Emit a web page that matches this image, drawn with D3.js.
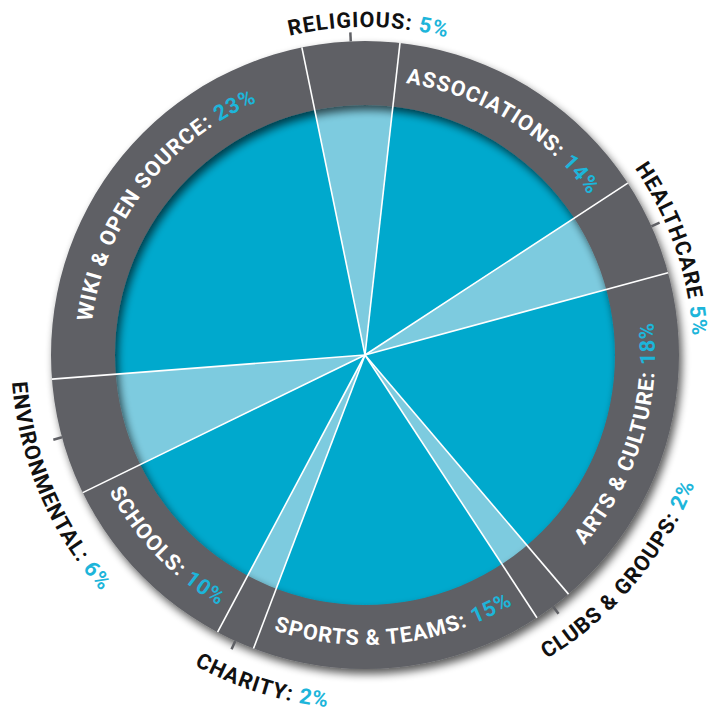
<!DOCTYPE html>
<html lang="en">
<head>
<meta charset="UTF-8">
<title>Sectors</title>
<script src="https://cdn.jsdelivr.net/npm/d3@7/dist/d3.min.js"></script>
<style>
  body { margin: 0; background: #fff; }
  text { font-family: Roboto, "Liberation Sans", sans-serif; font-weight: 700; }
</style>
</head>
<body>
<svg id="svg" width="723" height="708"></svg>
<script>
// label text (as printed) and share in percent, clockwise from the top
const categories = ["RELIGIOUS:", "ASSOCIATIONS:", "HEALTHCARE", "ARTS & CULTURE:", "CLUBS & GROUPS:",
                    "SPORTS & TEAMS:", "CHARITY:", "SCHOOLS:", "ENVIRONMENTAL:", "WIKI & OPEN SOURCE:"];
const values = [5, 14, 5, 18, 2, 15, 2, 10, 6, 23];

const data = categories.map((c, i) => ({name: c, value: values[i]}));

const svg = d3.select("#svg");
const cx = 365, cy = 355;
const rIn = 250, rOut = 314;
const deg = Math.PI / 180;
const startA = -11.6 * deg;
const fontSize = 21.5, spacing = 1;

const blue = "#00a9cd", lightBlue = "#7dcbdf", ring = "#5f6065", pctBlue = "#1db5da";

const isSmall = d => d.data.value <= 6;

const pie = d3.pie().sort(null).value(d => d.value)
  .startAngle(startA).endAngle(startA + 2 * Math.PI);
const arcs = pie(data);

const defs = svg.append("defs");
const f = defs.append("filter").attr("id", "shadow")
  .attr("x", "-20%").attr("y", "-20%").attr("width", "140%").attr("height", "140%");
f.append("feGaussianBlur").attr("in", "SourceAlpha").attr("stdDeviation", 4.5).attr("result", "b");
f.append("feOffset").attr("in", "b").attr("dx", 3).attr("dy", 5).attr("result", "o");
f.append("feComponentTransfer").attr("in", "o").attr("result", "s")
  .append("feFuncA").attr("type", "linear").attr("slope", 0.65);
const m = f.append("feMerge");
m.append("feMergeNode").attr("in", "s");
m.append("feMergeNode").attr("in", "SourceGraphic");

const g = svg.append("g").attr("transform", `translate(${cx},${cy})`);

// inner pie
const pieArc = d3.arc().innerRadius(0).outerRadius(rIn + 20);
g.selectAll(".slice").data(arcs).join("path")
  .attr("class", "slice")
  .attr("d", pieArc)
  .attr("fill", d => isSmall(d) ? lightBlue : blue);

// grey ring with its shadow
g.append("path")
  .attr("d", d3.arc().innerRadius(rIn).outerRadius(rOut).startAngle(0).endAngle(2 * Math.PI)())
  .attr("fill", ring)
  .attr("filter", "url(#shadow)");

// white separators
const pt = (a, r) => [r * Math.sin(a), -r * Math.cos(a)];
g.selectAll(".sep").data(arcs).join("line")
  .attr("class", "sep")
  .attr("x1", 0).attr("y1", 0)
  .attr("x2", d => pt(d.startAngle, rOut)[0])
  .attr("y2", d => pt(d.startAngle, rOut)[1])
  .attr("stroke", "#fff").attr("stroke-width", 1.6);

// small ticks for the outside labels
const midA = d => (d.startAngle + d.endAngle) / 2;
g.selectAll(".tick").data(arcs.filter(isSmall)).join("line")
  .attr("class", "tick")
  .attr("x1", d => pt(midA(d), rOut)[0])
  .attr("y1", d => pt(midA(d), rOut)[1])
  .attr("x2", d => pt(midA(d), rOut + 9)[0])
  .attr("y2", d => pt(midA(d), rOut + 9)[1])
  .attr("stroke", ring).attr("stroke-width", 2.5);

// curved labels
const span = 85 * deg;
function labelPath(mid, r, cw) {
  const a0 = cw ? mid - span : mid + span;
  const a1 = cw ? mid + span : mid - span;
  const p0 = pt(a0, r), p1 = pt(a1, r);
  return `M${p0[0]},${p0[1]} A${r},${r} 0 0 ${cw ? 1 : 0} ${p1[0]},${p1[1]}`;
}
// how far (degrees, along the reading direction) an outside label slides past its tick
const nudge = {"CLUBS & GROUPS:": 10, "CHARITY:": 4, "ENVIRONMENTAL:": 5, "HEALTHCARE": 2};

arcs.forEach((d, i) => {
  const mid = midA(d);
  const norm = ((mid / deg) % 360 + 360) % 360;
  const cw = !(norm > 90 && norm < 270);
  const small = isSmall(d);
  let r;
  if (small) r = cw ? 328 : 354;
  else r = cw ? 275 : 290;
  const id = "lp" + i;
  defs.append("path").attr("id", id).attr("d", labelPath(mid, r, cw));
  const t = g.append("text").attr("font-size", fontSize).attr("letter-spacing", spacing);
  const tp = t.append("textPath").attr("href", "#" + id);
  const nameSpan = tp.append("tspan").attr("fill", small ? "#111" : "#fff").text(d.data.name);
  tp.append("tspan").attr("fill", pctBlue).text(" " + d.data.value + "%");
  const arcLen = r * span;
  if (small) {
    // keep the name centred on its tick, the value trails after it
    const nw = nameSpan.node().getComputedTextLength();
    const extra = (nudge[d.data.name] || 0) * deg * r;
    tp.attr("startOffset", arcLen - nw / 2 + extra);
  } else {
    tp.attr("startOffset", "50%").attr("text-anchor", "middle");
  }
});
</script>
</body>
</html>
